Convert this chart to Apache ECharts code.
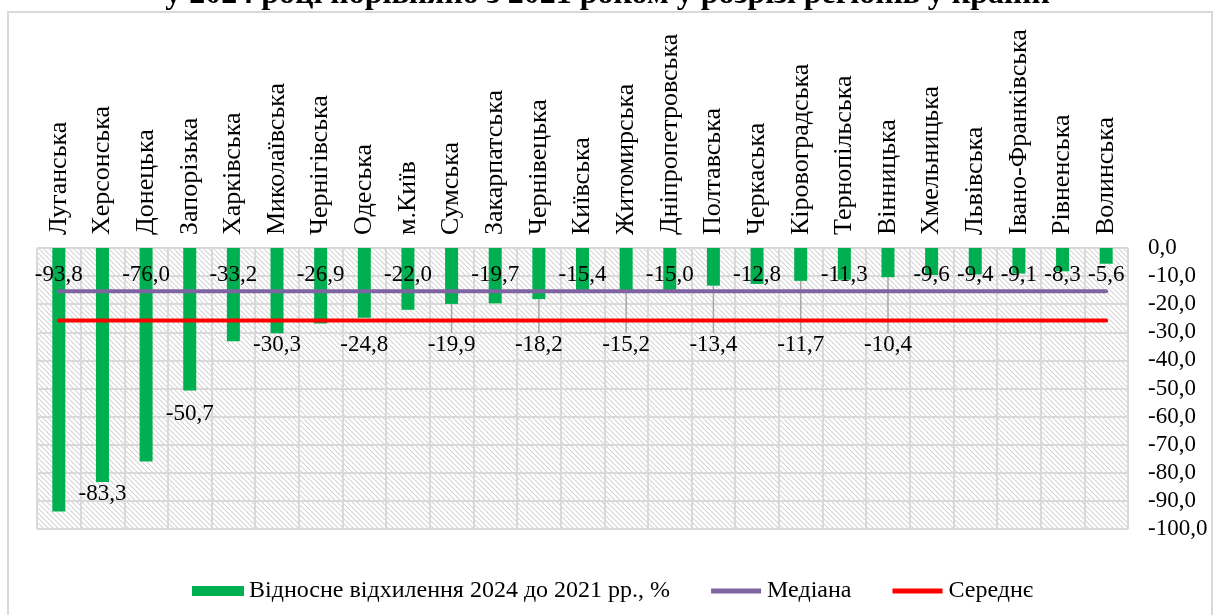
<!DOCTYPE html>
<html>
<head>
<meta charset="utf-8">
<script src="https://cdn.jsdelivr.net/npm/echarts@6/dist/echarts.min.js"></script>
<style>
  html, body { margin: 0; padding: 0; background: #fff; }
  #chart { width: 1215px; height: 615px; }
</style>
</head>
<body>
<div id="chart"></div>
<script>
// регіони (порядок як на діаграмі)
const categories = [
  'Луганська', 'Херсонська', 'Донецька', 'Запорізька', 'Харківська',
  'Миколаївська', 'Чернігівська', 'Одеська', 'м.Київ', 'Сумська',
  'Закарпатська', 'Чернівецька', 'Київська', 'Житомирська', 'Дніпропетровська',
  'Полтавська', 'Черкаська', 'Кіровоградська', 'Тернопільська', 'Вінницька',
  'Хмельницька', 'Львівська', 'Івано-Франківська', 'Рівненська', 'Волинська'
]
// відносне відхилення 2024 до 2021 рр., %
const deviation = [
  -93.8, -83.3, -76.0, -50.7, -33.2,
  -30.3, -26.9, -24.8, -22.0, -19.9,
  -19.7, -18.2, -15.4, -15.2, -15.0,
  -13.4, -12.8, -11.7, -11.3, -10.4,
  -9.6, -9.4, -9.1, -8.3, -5.6
]
const medianValue = -15.4
const meanValue = -25.8
const yTicks = [0, -10, -20, -30, -40, -50, -60, -70, -80, -90, -100]

const serif = 'Liberation Serif'
const fmt = (v) => Number(v).toFixed(1).replace('.', ',')
const legendFont = { fontFamily: serif, fontSize: 24, color: '#000' }
// іконка легенди для ліній: товста смуга у рамці 52x10
const lineIcon = 'path://M0,0 M52,10 M1,2.5 L51,2.5 L51,7.5 L1,7.5 Z'

// штрихування фону області побудови
function hatchPattern() {
  const s = 5
  const c = document.createElement('canvas')
  c.width = s
  c.height = s
  const g = c.getContext('2d')
  g.fillStyle = '#ffffff'
  g.fillRect(0, 0, s, s)
  g.strokeStyle = '#d4d4d4'
  g.lineWidth = 1.1
  g.beginPath()
  g.moveTo(-1, -1); g.lineTo(s + 1, s + 1)
  g.moveTo(-s, 0); g.lineTo(0, s)
  g.moveTo(s, 0); g.lineTo(2 * s, s)
  g.stroke()
  return c
}

// підписи: почергово над та під стовпчиками (як у вихідній діаграмі)
function labelFor(i) {
  if (i % 2 === 0 || i >= 20) {
    return { label: { position: 'insideTop', distance: 15 } }
  }
  if (i === 1) return { label: { position: 'bottom', distance: 0 } }
  if (i === 3) return { label: { position: 'bottom', distance: 12 } }
  const item = { label: { position: 'insideTop', distance: 85 } }
  if (i >= 9) item.labelLine = { show: true }
  return item
}
const hasLeader = (i) => i >= 9 && i < 20 && i % 2 === 1

const chart = echarts.init(document.getElementById('chart'))

const option = {
  animation: false,
  backgroundColor: '#ffffff',
  textStyle: { fontFamily: serif },
  title: {
    text: 'у 2024 році порівняно з 2021 роком у розрізі регіонів у країни',
    left: 'center',
    top: -26,
    textStyle: { fontFamily: serif, fontSize: 32, fontWeight: 'bold', color: '#000' }
  },
  graphic: [{
    type: 'rect',
    shape: { x: 8, y: 12, width: 1204, height: 640 },
    style: { fill: 'none', stroke: '#d9d9d9', lineWidth: 2 },
    silent: true
  }],
  legend: {
    left: 187,
    top: 574,
    itemWidth: 52,
    itemHeight: 10,
    itemGap: 40,
    textStyle: legendFont,
    data: [
      { name: 'Відносне відхилення 2024 до 2021 рр., %', icon: 'rect', textStyle: legendFont },
      { name: 'Медіана', icon: lineIcon, textStyle: legendFont },
      { name: 'Середнє', icon: lineIcon, textStyle: legendFont }
    ]
  },
  grid: {
    left: 37,
    right: 87,
    top: 248,
    bottom: 86,
    show: true,
    borderWidth: 0,
    backgroundColor: { image: hatchPattern(), repeat: 'repeat' }
  },
  xAxis: {
    type: 'category',
    position: 'top',
    data: categories,
    axisLine: { show: false },
    axisTick: { show: false },
    splitLine: { show: true, interval: 0, lineStyle: { color: '#d9d9d9', width: 2 } },
    axisLabel: {
      interval: 0,
      rotate: 90,
      margin: 13,
      fontFamily: serif,
      fontSize: 26,
      color: '#000'
    }
  },
  yAxis: {
    type: 'value',
    position: 'right',
    min: yTicks[yTicks.length - 1],
    max: yTicks[0],
    interval: 10,
    axisLine: { show: false },
    axisTick: { show: false },
    splitLine: { lineStyle: { color: '#d9d9d9', width: 2 } },
    axisLabel: {
      margin: 20,
      fontFamily: serif,
      fontSize: 23,
      color: '#000',
      formatter: fmt
    }
  },
  series: [
    {
      name: 'Відносне відхилення 2024 до 2021 рр., %',
      type: 'bar',
      barWidth: 13,
      itemStyle: { color: '#00B050' },
      label: {
        show: true,
        fontFamily: serif,
        fontSize: 23,
        color: '#000',
        formatter: (p) => fmt(p.value)
      },
      labelLine: { show: false, lineStyle: { color: '#a6a6a6', width: 1.5 } },
      // виносні лінії: від кінця стовпчика вниз до підпису
      labelLayout: (p) => {
        if (!hasLeader(p.dataIndex)) return {}
        const cx = p.rect.x + p.rect.width / 2
        const end = p.rect.y + p.rect.height
        return {
          labelLinePoints: [[cx, end], [cx + 2, p.labelRect.y - 2]]
        }
      },
      data: deviation.map((v, i) => Object.assign({ value: v }, labelFor(i)))
    },
    {
      name: 'Медіана',
      type: 'line',
      symbol: 'none',
      lineStyle: { color: '#8064A2', width: 4, cap: 'round' },
      itemStyle: { color: '#8064A2' },
      data: [[categories[0], medianValue], [categories[categories.length - 1], medianValue]]
    },
    {
      name: 'Середнє',
      type: 'line',
      symbol: 'none',
      lineStyle: { color: '#FF0000', width: 4, cap: 'round' },
      itemStyle: { color: '#FF0000' },
      data: [[categories[0], meanValue], [categories[categories.length - 1], meanValue]]
    }
  ]
}

chart.setOption(option)
</script>
</body>
</html>
